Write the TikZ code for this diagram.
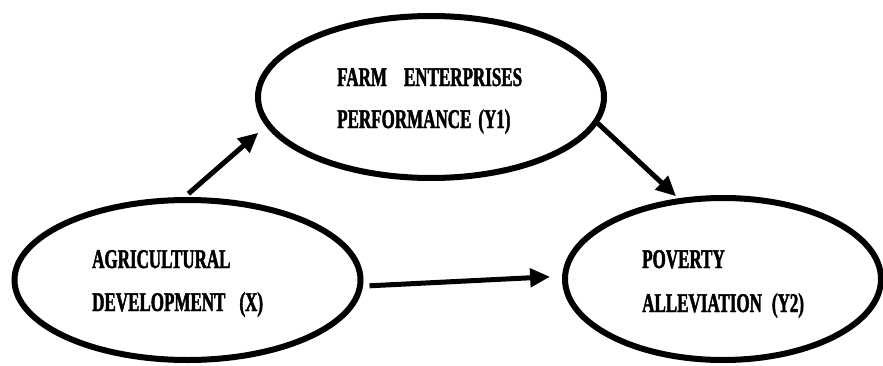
\documentclass[tikz,border=0pt]{standalone}
\usepackage{fontspec}
\newfontfamily\lbl{Liberation Serif}[FakeStretch=0.63, FakeBold=1.6]
\usetikzlibrary{shapes.geometric,arrows.meta}
\tikzset{
  ell/.style={draw, ellipse, line width=6pt, inner sep=0pt},
  txt/.style={anchor=base west, inner sep=0pt, font=\lbl\bfseries\fontsize{27}{30}\selectfont},
  arr/.style={line width=5pt, -{Triangle[length=20pt,width=18pt]}}
}
\begin{document}
\begin{tikzpicture}[x=1pt,y=1pt]
\useasboundingbox (0,0) rectangle (883,365);
\fill[white] (0,0) rectangle (883,365);
% ellipses
\node[ell, minimum width=346pt, minimum height=162pt] (Y1) at (431,268) {};
\node[ell, minimum width=346pt, minimum height=160pt] (X) at (187.5,85) {};
\node[ell, minimum width=316pt, minimum height=162pt] (Y2) at (723,86) {};
% texts
\node[txt] (Y1a) at (337,279) {FARM\hspace{17pt}ENTERPRISES};
\node[txt] (Y1b) at (337,237) {PERFORMANCE\hspace{7pt}(Y1)};
\node[txt] (Xa) at (92,97) {AGRICULTURAL};
\node[txt] (Xb) at (92,54) {DEVELOPMENT\hspace{14pt}(X)};
\node[txt] (Y2a) at (642,97) {POVERTY};
\node[txt] (Y2b) at (642,53) {ALLEVIATION\hspace{10pt}(Y2)};
% arrows
\draw[arr, shorten <=5pt, shorten >=10pt] (X.92) -- (Y1.190);
\draw[arr, shorten <=6.5pt, shorten >=12pt] (X.-2) -- (Y2.179);
\draw[arr, shorten >=3pt] (Y1.-9) -- (Y2.119);
\end{tikzpicture}
\end{document}
